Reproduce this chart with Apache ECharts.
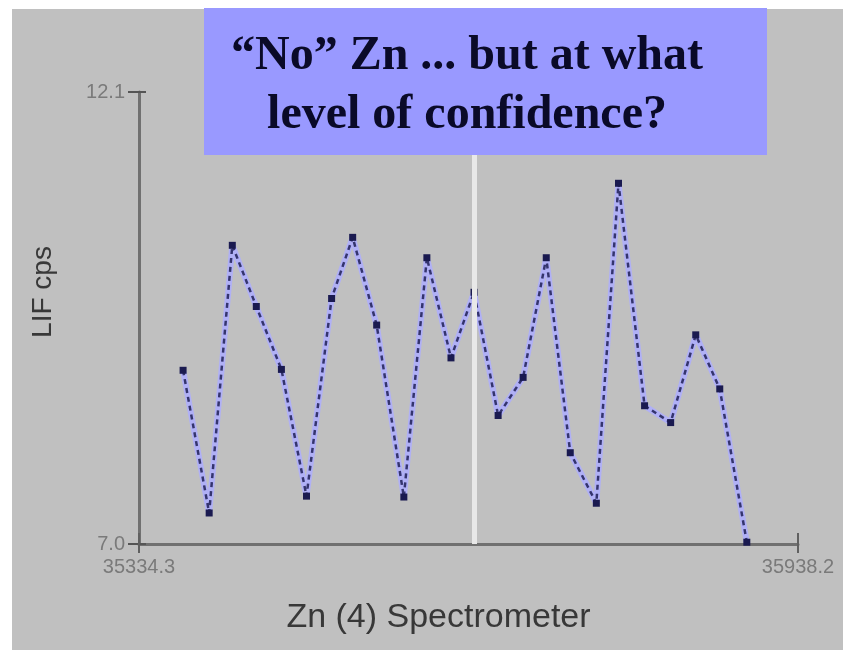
<!DOCTYPE html>
<html>
<head>
<meta charset="utf-8">
<script src="https://cdn.jsdelivr.net/npm/echarts@6/dist/echarts.min.js"></script>
<style>
html,body{margin:0;padding:0;background:#ffffff;}
#chart{width:843px;height:650px;}
</style>
</head>
<body>
<div id="chart"></div>
<script>
// Data
const wavelengths = [35374.7, 35398.6, 35419.8, 35441.8, 35464.8, 35487.8, 35510.8, 35530.1,
  35552.1, 35577.0, 35598.1, 35620.2, 35641.3, 35663.4, 35686.3, 35707.5, 35729.5, 35753.4,
  35773.7, 35797.6, 35821.5, 35844.5, 35866.5, 35891.3];
const lifCps = [8.96, 7.35, 10.37, 9.68, 8.97, 7.54, 9.77, 10.46, 9.47, 7.53, 10.23, 9.10,
  9.84, 8.45, 8.88, 10.23, 8.03, 7.46, 11.07, 8.56, 8.37, 9.36, 8.75, 7.02];
const xRange = [35334.3, 35938.2];
const yRange = [7.0, 12.1];
const markerX = 35641.3;
const titleLines = ['\u201CNo\u201D Zn ... but at what', 'level of confidence?'];
const xAxisName = 'Zn (4) Spectrometer';
const yAxisName = 'LIF cps';

const points = wavelengths.map((x, i) => [x, lifCps[i]]);
const chart = echarts.init(document.getElementById('chart'), null, {renderer: 'canvas'});

const tickFont = {color: '#7a7a7a', fontSize: 20, fontFamily: 'Liberation Sans, Arial, sans-serif'};
const fmt = v => Number(v).toFixed(1);

chart.setOption({
  backgroundColor: 'transparent',
  animation: false,
  graphic: [
    {type: 'rect', z: -10, silent: true, shape: {x: 12, y: 9, width: 831, height: 641}, style: {fill: '#c0c0c0'}},
    {type: 'rect', z: 100, silent: true, shape: {x: 204, y: 8, width: 563, height: 147}, style: {fill: '#9999ff'}},
    {type: 'text', z: 101, silent: true, x: 467, y: 27,
      style: {text: titleLines.join('\n'), fill: '#0a0a28', font: 'bold 48px "Liberation Serif", "Times New Roman", serif',
        lineHeight: 59, align: 'center', verticalAlign: 'top'}}
  ],
  grid: {left: 139, right: 45, top: 92, bottom: 106},
  xAxis: [
    {type: 'value', min: xRange[0], max: xRange[1], interval: xRange[1] - xRange[0], position: 'bottom',
      splitLine: {show: false},
      axisLine: {lineStyle: {color: '#707070', width: 3}},
      axisTick: {length: 9, lineStyle: {color: '#606060', width: 2}},
      axisLabel: Object.assign({margin: 13, formatter: fmt, showMinLabel: true, showMaxLabel: true}, tickFont),
      name: xAxisName, nameLocation: 'middle', nameGap: 57,
      nameTextStyle: {color: '#383838', fontSize: 34, fontFamily: 'Liberation Sans, Arial, sans-serif', padding: [0, 60, 0, 0]}},
    {type: 'value', min: xRange[0], max: xRange[1], interval: xRange[1] - xRange[0], position: 'bottom', offset: 0,
      splitLine: {show: false}, axisLine: {show: false},
      axisTick: {inside: true, length: 11, lineStyle: {color: '#606060', width: 2}},
      axisLabel: {show: false}}
  ],
  yAxis: [
    {type: 'value', min: yRange[0], max: yRange[1], interval: yRange[1] - yRange[0], position: 'left',
      splitLine: {show: false},
      axisLine: {show: true, lineStyle: {color: '#707070', width: 3}},
      axisTick: {show: true, length: 11, lineStyle: {color: '#555555', width: 2}},
      axisLabel: Object.assign({margin: 14, formatter: fmt, showMinLabel: true, showMaxLabel: true}, tickFont),
      name: yAxisName, nameLocation: 'middle', nameGap: 82, nameRotate: 90,
      nameTextStyle: {color: '#383838', fontSize: 28, fontFamily: 'Liberation Sans, Arial, sans-serif', padding: [0, 0, 0, 52]}},
    {type: 'value', min: yRange[0], max: yRange[1], interval: yRange[1] - yRange[0], position: 'left', offset: 0,
      splitLine: {show: false}, axisLine: {show: false},
      axisTick: {show: true, inside: true, length: 7, lineStyle: {color: '#555555', width: 2}},
      axisLabel: {show: false}}
  ],
  series: [
    {type: 'line', data: points, xAxisIndex: 0, yAxisIndex: 0, z: 2,
      symbol: 'none', lineStyle: {color: '#b0b0f6', width: 6},
      markLine: {silent: true, symbol: 'none', label: {show: false},
        lineStyle: {color: '#e8e8e8', width: 5, type: 'solid'},
        data: [{xAxis: markerX}]}},
    {type: 'line', data: points, xAxisIndex: 0, yAxisIndex: 0, z: 3,
      symbol: 'rect', symbolSize: 7,
      itemStyle: {color: '#1a1a50'},
      lineStyle: {color: '#34346e', width: 2.5, type: [5, 4]}}
  ]
});
</script>
</body>
</html>
